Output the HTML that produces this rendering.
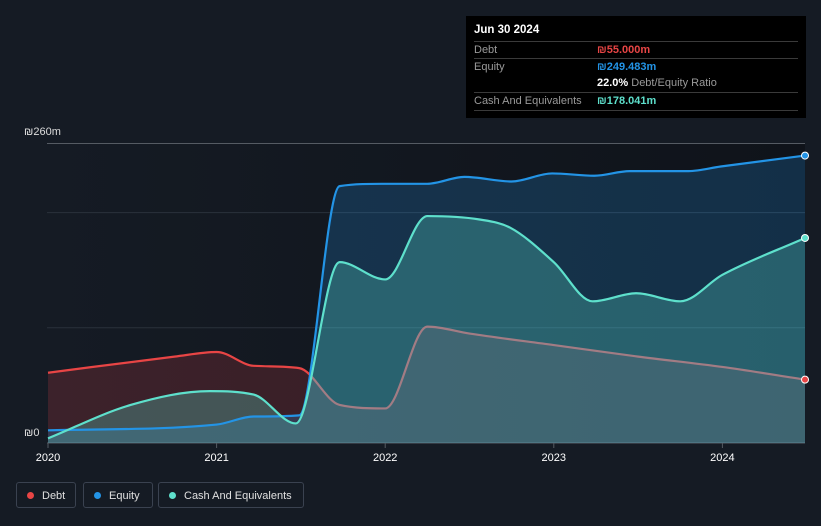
<!DOCTYPE html>
<html><head><meta charset="utf-8"><style>
body{margin:0;background:#151b24;width:821px;height:526px;overflow:hidden;font-family:"Liberation Sans",sans-serif;}
#tip{position:absolute;left:466px;top:16px;width:340px;height:102px;background:#000;color:#fff;font-size:11px;}
.row{position:absolute;left:8px;width:324px;border-top:1px solid #3a3a3a;height:17px;line-height:17px;color:#9a9a9a;}
.v{position:absolute;left:123px;font-weight:bold;}
.leg{position:absolute;top:482px;height:26px;border:1px solid #3a4250;border-radius:3px;color:#e0e0e0;font-size:11px;line-height:26px;box-sizing:border-box;}
.dot{display:inline-block;width:7px;height:7px;border-radius:50%;margin:0 8px 0 10px;}
</style></head><body>
<svg id="chart" width="821" height="526" style="position:absolute;left:0;top:0">
<defs>
<linearGradient id="bg" x1="0" y1="0" x2="1" y2="0"><stop offset="0" stop-color="#151b24"/><stop offset="1" stop-color="#0f131a"/></linearGradient>
</defs>
<rect x="47" y="143" width="758" height="300" fill="url(#bg)"/>
<g id="grid"></g><g id="debtlayer"></g><g id="areas"></g><g id="lines"></g><g id="axes"></g>
</svg>
<div id="tip">
<div style="position:absolute;left:8px;top:8px;font-weight:bold;font-size:11.5px">Jun 30 2024</div>
<div class="row" style="top:25px">Debt<span class="v" style="color:#e84545">₪55.000m</span></div>
<div class="row" style="top:42px">Equity<span class="v" style="color:#2394e6">₪249.483m</span></div>
<div class="row" style="top:59px;border-top:none"><span class="v" style="color:#fff">22.0% <span style="color:#9a9a9a;font-weight:normal">Debt/Equity Ratio</span></span></div>
<div class="row" style="top:76px;border-bottom:1px solid #3a3a3a">Cash And Equivalents<span class="v" style="color:#5ee0cc">₪178.041m</span></div>
</div>
<div class="leg" style="left:16px;width:60px"><span class="dot" style="background:#e84545"></span>Debt</div>
<div class="leg" style="left:83px;width:70px"><span class="dot" style="background:#2394e6"></span>Equity</div>
<div class="leg" style="left:158px;width:146px"><span class="dot" style="background:#5ee0cc"></span>Cash And Equivalents</div>
<script>
const debtT=[2020,2020.75,2021,2021.22,2021.49,2021.73,2022,2022.25,2022.5,2023,2023.5,2024,2024.49];
const debtV=[61,75,79,67,65,33,30,101,95,85,75,66,55];
const eqT=[2020,2021,2021.22,2021.49,2021.73,2022,2022.25,2022.47,2022.75,2022.99,2023.24,2023.45,2023.8,2023.99,2024.49];
const eqV=[11,16,23,24,223,225,225,231,227,234,232,236,236,240,249.5];
const cashT=[2020,2020.49,2020.96,2021.22,2021.47,2021.73,2022,2022.25,2022.56,2022.74,2023,2023.23,2023.49,2023.75,2024,2024.49];
const cashV=[4,33,45,42,17,157,142,197,194,187,157,123,130,123,146,178];
const yTicks=[0,260];const gridVals=[100,200,260];
const xTicks=[2020,2021,2022,2023,2024];
const X=t=>48+(t-2020)*168.6, Y=v=>443-v*1.152;
const NS='http://www.w3.org/2000/svg';
function mk(tag,attrs,parent){const e=document.createElementNS(NS,tag);for(const k in attrs)e.setAttribute(k,attrs[k]);document.getElementById(parent).appendChild(e);return e;}
function mono(ts,vs){const p=ts.map((t,i)=>[X(t),Y(vs[i])]);const n=p.length;const d=[],m=[];
for(let i=0;i<n-1;i++)d.push((p[i+1][1]-p[i][1])/(p[i+1][0]-p[i][0]));
for(let i=0;i<n;i++){if(i==0)m.push(d[0]);else if(i==n-1)m.push(d[n-2]);else m.push(d[i-1]*d[i]<=0?0:(d[i-1]+d[i])/2);}
for(let i=0;i<n-1;i++){if(d[i]==0){m[i]=0;m[i+1]=0;continue;}const a=m[i]/d[i],b=m[i+1]/d[i],s=a*a+b*b;if(s>9){const tt=3/Math.sqrt(s);m[i]=tt*a*d[i];m[i+1]=tt*b*d[i];}}
let s='M'+p[0][0]+','+p[0][1];for(let i=0;i<n-1;i++){const h=(p[i+1][0]-p[i][0])/3;s+=` C${p[i][0]+h},${p[i][1]+m[i]*h} ${p[i+1][0]-h},${p[i+1][1]-m[i+1]*h} ${p[i+1][0]},${p[i+1][1]}`;}return s;}
gridVals.forEach(v=>{const g=mk('line',{x1:47,x2:805,y1:Y(v),y2:Y(v),stroke:v==260?'#555b63':'#2a313b','stroke-width':1},'grid');

});
const series=[[eqT,eqV,'#2394e6','rgba(35,148,230,0.22)','equity'],[cashT,cashV,'#5ee0cc','rgba(94,224,204,0.28)','cash'],[debtT,debtV,'#e84545','rgba(200,60,70,0.22)','debt']];
series.forEach(s=>{const path=mono(s[0],s[1]);const x0=X(s[0][0]),x1=X(s[0][s[0].length-1]);
const isDebt=s[4]=='debt';
const a=mk('path',{d:path+` L${x1},443 L${x0},443 Z`,fill:s[3]},isDebt?'debtlayer':'areas');


const l=mk('path',{d:path,fill:'none',stroke:s[2],'stroke-width':2.2},isDebt?'debtlayer':'lines');


const c=mk('circle',{cx:x1,cy:Y(s[1][s[1].length-1]),r:3.5,fill:s[2],stroke:'#fff','stroke-width':1},'axes');

});
mk('line',{x1:47,x2:805,y1:443,y2:443,stroke:'#555b63'},'grid');
xTicks.forEach(t=>{mk('line',{x1:X(t),x2:X(t),y1:443,y2:448,stroke:'#555b63'},'grid');
const tx=mk('text',{x:X(t),y:461,fill:'#fff','font-size':11,'text-anchor':'middle','font-family':'Liberation Sans'},'axes');tx.textContent=t;

});
yTicks.forEach(v=>{const tx=mk('text',{x:24,y:v==0?436:135,fill:'#ddd','font-size':11,'font-family':'Liberation Sans'},'axes');tx.textContent='₪'+v+(v?'m':'');

});
</script>
</body></html>
